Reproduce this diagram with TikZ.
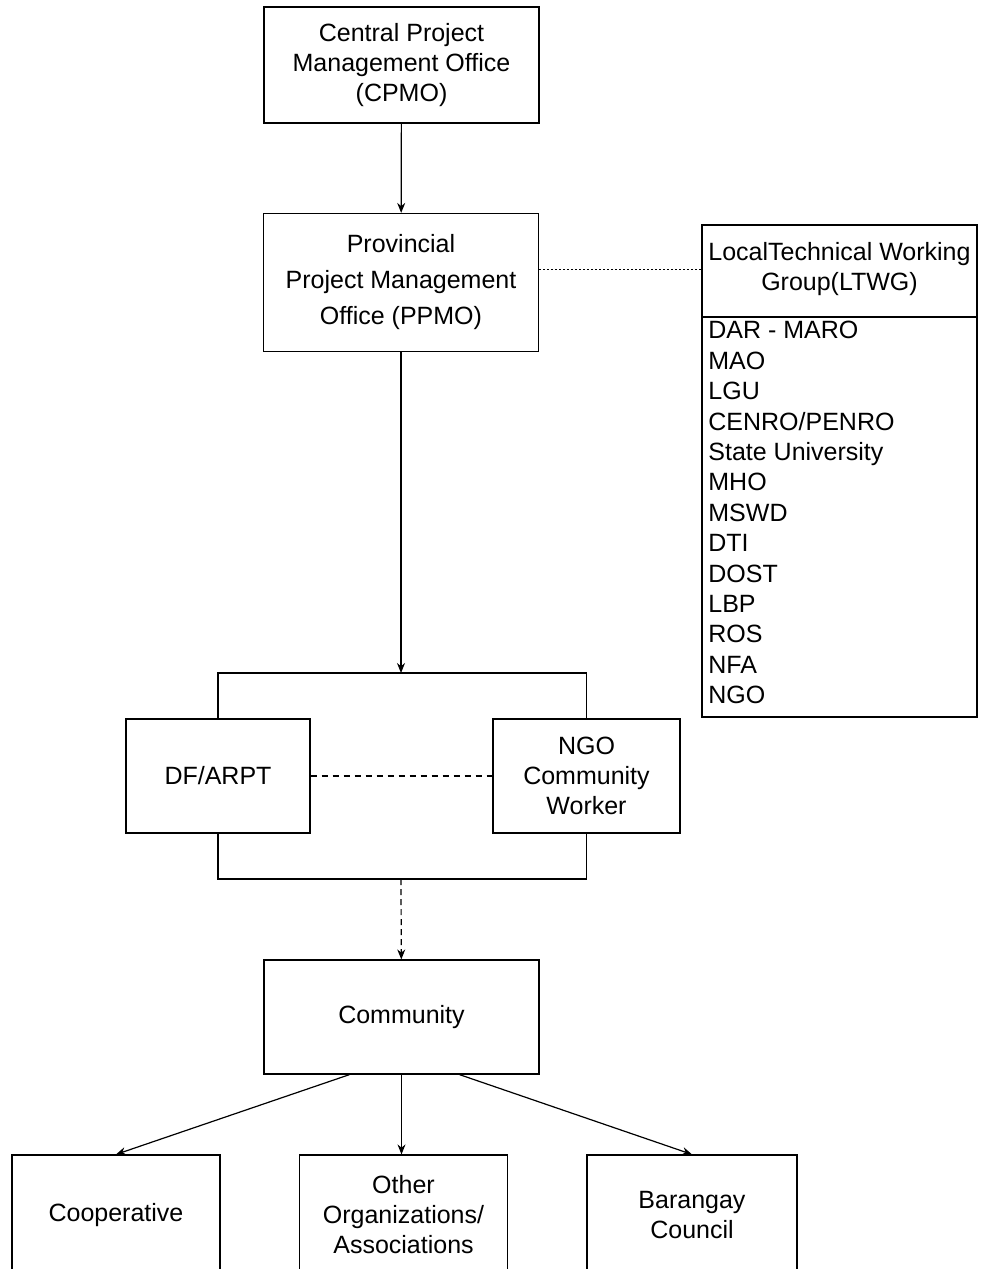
\documentclass[tikz,border=0pt]{standalone}
\usepackage{fontspec}
\setmainfont{Liberation Sans}
\usetikzlibrary{arrows.meta}

\begin{document}
\begin{tikzpicture}
  [x=0.5pt,y=-0.5pt,
   every node/.style={font=\fontsize{12.5}{15}\selectfont,align=center,inner sep=0pt},
   box/.style={draw,line width=.6pt,minimum width=137.5pt,minimum height=57pt},
   small/.style={draw,line width=.6pt,minimum width=104pt,minimum height=60pt},
   arr/.style={-{Stealth[length=5pt,width=4pt]},line width=.6pt}]
  \clip (0,0) rectangle (980,1269);

  \node[box,minimum height=58pt] (cpmo) at (401.5,65) {Central Project\\Management Office\\(CPMO)};
  \node[box,minimum height=69pt,font=\fontsize{12.5}{18}\selectfont] (ppmo) at (401,282.5)
    {Provincial\\Project Management\\Office (PPMO)};

  % technical working group
  \node[box,minimum width=137.5pt,minimum height=246pt] (ltwg) at (839.5,471) {};
  \node[minimum width=137.5pt] (ltwghead) at (839.5,269) {LocalTechnical Working\\Group(LTWG)};
  \draw[line width=.6pt] (ltwg.west |- 0,317) -- (ltwg.east |- 0,317);
  \node[align=left,anchor=north west,font=\fontsize{12.5}{15.2}\selectfont] (members) at (708,321)
    {DAR - MARO\\MAO\\LGU\\CENRO/PENRO\\State University\\MHO\\MSWD\\DTI\\DOST\\LBP\\ROS\\NFA\\NGO};

  \node[box,minimum width=92pt] (dfarpt) at (218,776) {DF/ARPT};
  \node[box,minimum width=93.5pt] (ngo) at (586.5,776) {NGO\\Community\\Worker};
  \node[box] (community) at (401.5,1017) {Community};

  \node[small] (coop) at (116,1215) {Cooperative};
  \node[small] (others) at (403.5,1215) {Other\\Organizations/\\Associations};
  \node[small,minimum width=105pt] (barangay) at (692,1215) {Barangay\\Council};

  \coordinate (split) at (401,673);
  \coordinate (join) at (401,879);

  \draw[arr] (cpmo) -- (ppmo);
  \draw[line width=.5pt,dash pattern=on .8pt off 1.2pt] (ppmo.east |- ltwghead.west) -- (ltwghead.west);
  \draw[arr] (ppmo) -- (split);
  \draw[line width=.6pt] (dfarpt.north) -- (dfarpt.north |- split) -- (ngo.north |- split) -- (ngo.north);
  \draw[line width=.6pt] (dfarpt.south) -- (dfarpt.south |- join) -- (ngo.south |- join) -- (ngo.south);
  \draw[line width=1.2pt,dash pattern=on 3pt off 2.5pt] (dfarpt) -- (ngo);
  \draw[arr,dash pattern=on 3pt off 2pt] (join) -- (community);

  \draw[arr] ([xshift=-26pt]community.south) -- (coop.north);
  \draw[arr] (community.south) -- (community.south |- others.north);
  \draw[arr] ([xshift=29pt]community.south) -- (barangay.north);
\end{tikzpicture}
\end{document}
